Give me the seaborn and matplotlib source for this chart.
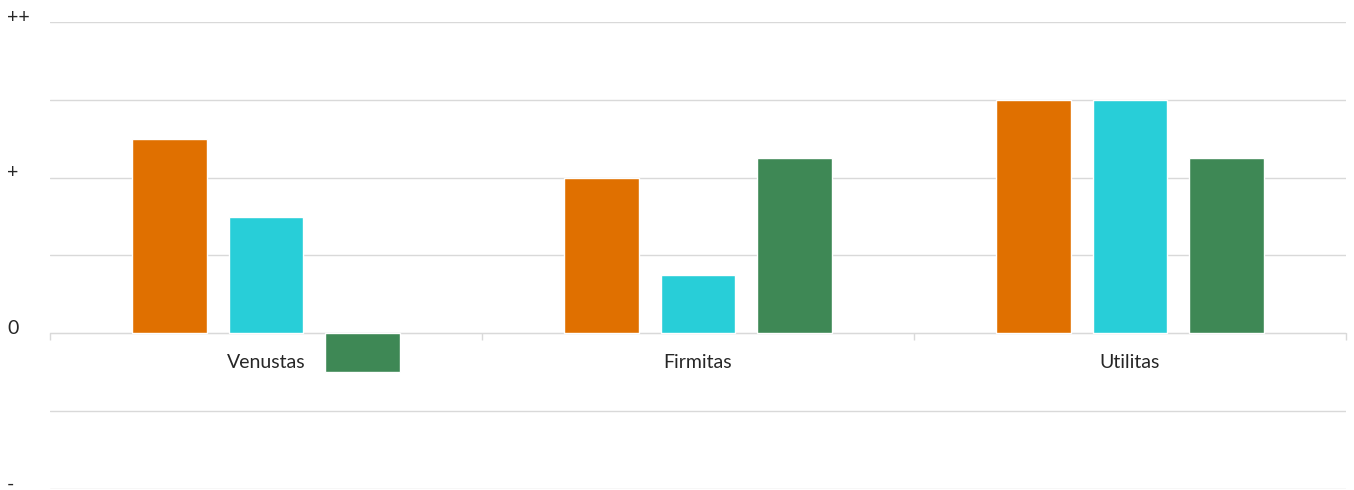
import matplotlib.pyplot as plt
import matplotlib.transforms as mtransforms
from matplotlib.ticker import MultipleLocator
import pandas as pd
import seaborn as sns

categories = ['Venustas', 'Firmitas', 'Utilitas']
series_names = ['Serie 1', 'Serie 2', 'Serie 3']
serie_1 = [2.5, 2.0, 3.0]
serie_2 = [1.5, 0.75, 3.0]
serie_3 = [-0.5, 2.25, 2.25]
ytick_values = [-2, 0, 2, 4]
ytick_labels = ['-', '0', '+', '++']
colors = ['#E07000', '#28CED8', '#3E8855']

df = pd.DataFrame({
    'category': categories * 3,
    'serie': [s for s in series_names for _ in categories],
    'value': serie_1 + serie_2 + serie_3,
})

sns.set_style('white')
plt.rcParams['font.family'] = ['Lato', 'DejaVu Sans']

fig = plt.figure(figsize=(13.54, 4.9), dpi=100)
ax = fig.add_axes([50 / 1354, 1 / 490, 1296 / 1354, 467 / 490])

sns.barplot(data=df, x='category', y='value', hue='serie', hue_order=series_names,
            palette=colors, saturation=1, width=0.667, gap=0.22, legend=False,
            ax=ax, zorder=3)

ax.set_xlim(-0.5, 2.5)
ax.set_ylim(-2, 4)
ax.set_xlabel('')
ax.set_ylabel('')

# grid every step, labels only on some
ax.yaxis.set_major_locator(MultipleLocator(1))
ax.grid(axis='y', color='#D9D9D9', lw=1, zorder=0)
ax.tick_params(axis='y', left=False, labelleft=False)
for side in ['top', 'right', 'left']:
    ax.spines[side].set_visible(False)
ax.spines['bottom'].set_position(('data', 0))
ax.spines['bottom'].set_color('#D9D9D9')
ax.spines['bottom'].set_zorder(2)

ax.tick_params(axis='x', which='major', bottom=False, length=0, pad=15,
               labelsize=14, labelcolor='#262626')
ax.set_xticks([-0.5, 0.5, 1.5, 2.5], minor=True)
ax.tick_params(axis='x', which='minor', bottom=True, length=5, width=1,
               color='#D9D9D9', direction='out')

trans = mtransforms.blended_transform_factory(fig.transFigure, ax.transData)
trans = trans + mtransforms.ScaledTranslation(0, 3.5 / 72, fig.dpi_scale_trans)
for v, lab in zip(ytick_values, ytick_labels):
    ax.text(7 / 1354, v, lab, transform=trans, ha='left', va='center',
            fontsize=14, color='#262626', clip_on=False)

plt.savefig('out.png')
